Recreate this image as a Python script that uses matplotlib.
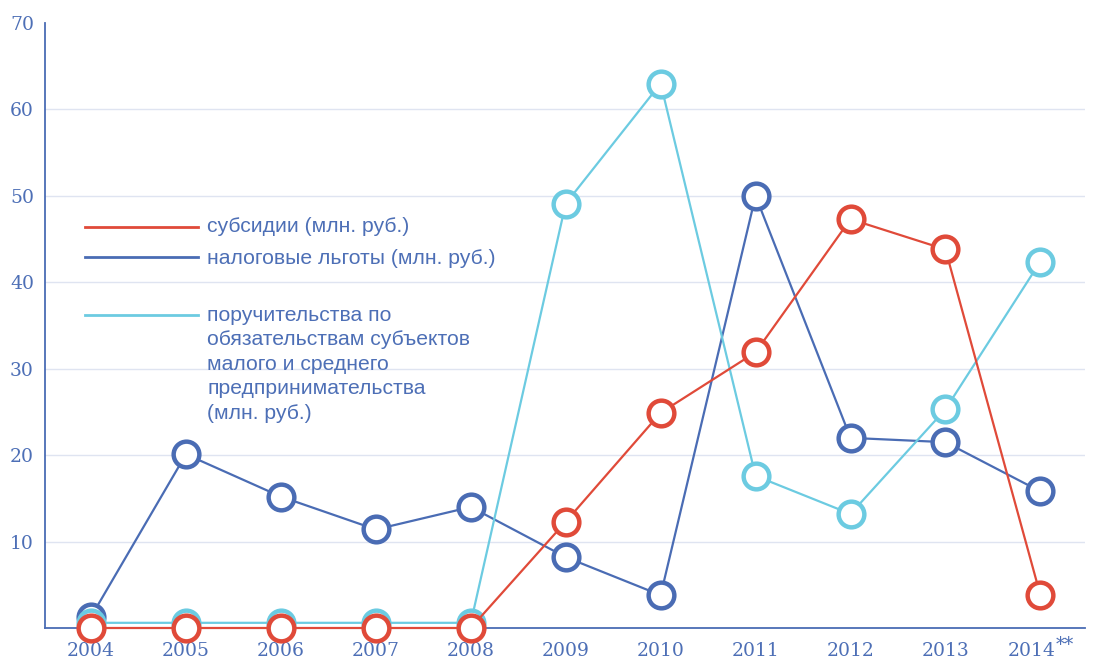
import matplotlib
matplotlib.use("Agg")
import matplotlib.pyplot as plt
from matplotlib.transforms import ScaledTranslation

# данные
years = ["2004", "2005", "2006", "2007", "2008", "2009", "2010", "2011", "2012", "2013", "2014"]
subsidies = [0, 0, 0, 0, 0, 12.3, 24.9, 31.9, 47.3, 43.8, 3.8]
tax_benefits = [1.3, 20.1, 15.2, 11.4, 14.0, 8.2, 3.8, 50.0, 22.0, 21.5, 15.8]
guarantees = [0.6, 0.6, 0.6, 0.6, 0.6, 49.1, 63.0, 17.6, 13.2, 25.3, 42.4]

labels = ["субсидии (млн. руб.)",
          "налоговые льготы (млн. руб.)",
          "поручительства по\nобязательствам субъектов\nмалого и среднего\nпредпринимательства\n(млн. руб.)"]

red = "#e04a39"
blue = "#4a6cb4"
cyan = "#6ccbe1"
txt = "#4d6fb6"

plt.rcParams['font.family'] = ['Liberation Sans', 'DejaVu Sans']

fig = plt.figure(figsize=(10.93, 6.59), dpi=100)
ax = fig.add_axes([45 / 1093, 31 / 659, 1040 / 1093, 605 / 659])

x = list(range(len(years)))
style = dict(lw=1.6, marker='o', ms=18.5, mew=3.2, mfc='white', clip_on=False)
ax.plot(x, tax_benefits, color=blue, zorder=3, **style)
ax.plot(x, guarantees, color=cyan, zorder=4, **style)
ax.plot(x, subsidies, color=red, zorder=5, **style)

ax.set_xlim(-0.485, 10.47)
ax.set_ylim(0, 70)
ax.set_xticks(x)
ax.set_xticklabels(years, family='DejaVu Serif', fontsize=13.5, color=txt)
ax.set_yticks(range(10, 80, 10))
ax.set_yticklabels([str(v) for v in range(10, 80, 10)], family='DejaVu Serif', fontsize=13.5, color=txt)
ax.tick_params(length=0)
ax.tick_params(axis='y', pad=8)
ax.tick_params(axis='x', pad=10)

# 2014** : сдвиг подписи и звёздочки
last = ax.get_xticklabels()[-1]
last.set_transform(last.get_transform() + ScaledTranslation(-9 / 100, 0, fig.dpi_scale_trans))
ax.annotate("**", xy=(10, 0), xytext=(11, -6), textcoords='offset points',
            fontsize=13, color=txt, family='DejaVu Serif', ha='left', va='top',
            annotation_clip=False)

ax.yaxis.grid(True, color='#dfe4f1', lw=1)
ax.yaxis.get_gridlines()[-1].set_visible(False)
ax.set_axisbelow(True)

for s in ['top', 'right']:
    ax.spines[s].set_visible(False)
for s in ['left', 'bottom']:
    ax.spines[s].set_color(blue)
    ax.spines[s].set_linewidth(1.3)

# легенда
key_y = [0.663, 0.613, 0.517]
text_y = [0.664, 0.611, 0.533]
for c, ky, ty, lab, va in zip([red, blue, cyan], key_y, text_y, labels, ['center', 'center', 'top']):
    ax.plot([0.0385, 0.147], [ky, ky], color=c, lw=2, transform=ax.transAxes)
    ax.text(0.156, ty, lab, transform=ax.transAxes, fontsize=15.2, color=txt,
            va=va, ha='left', linespacing=1.37)

fig.savefig("out.png", dpi=100)
